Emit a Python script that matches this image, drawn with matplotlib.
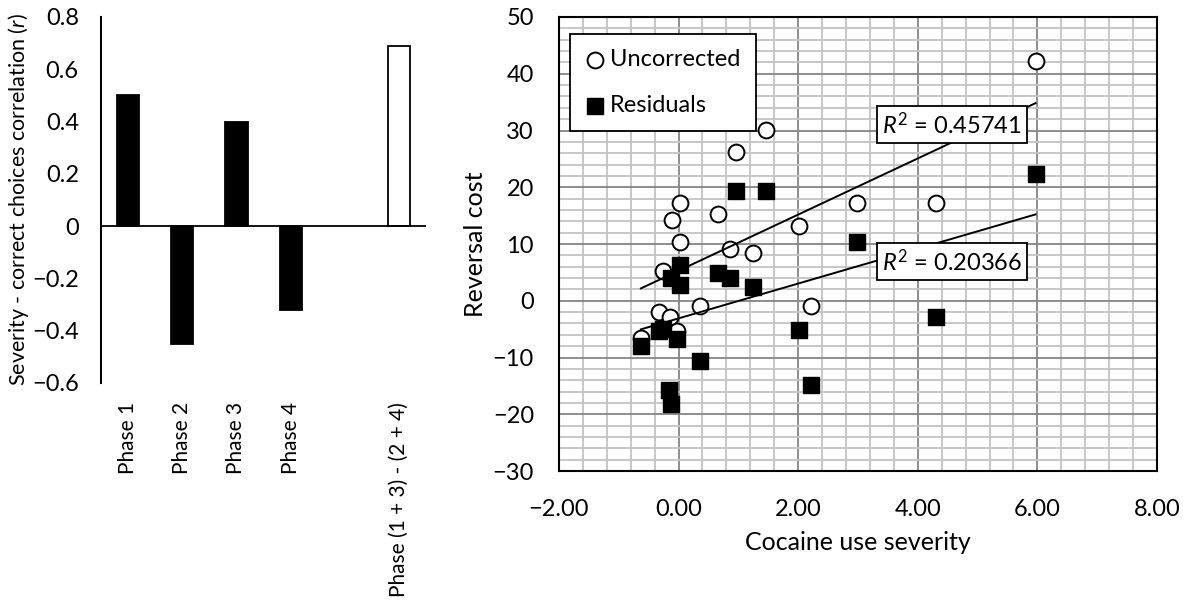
import numpy as np
import matplotlib
matplotlib.use("Agg")
import matplotlib.pyplot as plt
from matplotlib.ticker import MultipleLocator, FuncFormatter

plt.rcParams['font.family'] = ['Lato', 'DejaVu Sans']
plt.rcParams['mathtext.fontset'] = 'custom'
plt.rcParams['mathtext.it'] = 'Lato:italic'
plt.rcParams['mathtext.rm'] = 'Lato'

# --- bar panel: severity vs correct choices correlation per phase ---
phases = ['Phase 1', 'Phase 2', 'Phase 3', 'Phase 4', '', 'Phase (1 + 3) - (2 + 4)']
r_values = [0.50, -0.45, 0.40, -0.32, np.nan, 0.69]
bar_colors = ['black', 'black', 'black', 'black', 'white', 'white']

# --- scatter panel: reversal cost vs cocaine use severity ---
unc_x = [-0.63, -0.33, -0.26, -0.15, -0.11, -0.02, 0.03, 0.03, 0.36, 0.66,
         0.86, 0.96, 1.24, 1.46, 2.02, 2.22, 2.98, 4.30, 5.97]
unc_y = [-6.6, -1.9, 5.2, -2.9, 14.2, -5.4, 17.2, 10.3, -0.9, 15.3,
         9.2, 26.2, 8.4, 30.1, 13.1, -0.9, 17.2, 17.2, 42.3]
res_x = [-0.63, -0.33, -0.26, -0.16, -0.12, -0.13, -0.02, 0.03, 0.03, 0.36,
         0.66, 0.86, 0.96, 1.24, 1.46, 2.02, 2.22, 2.98, 4.30, 5.97]
res_y = [-7.9, -5.4, -5.0, -15.7, -18.2, 4.0, -6.8, 6.3, 2.8, -10.6,
         4.9, 4.0, 19.4, 2.5, 19.4, -5.1, -14.8, 10.4, -2.8, 22.3]
r2_unc = 0.45741
r2_res = 0.20366


def minus(s):
    return s.replace('-', '\u2212')


fig = plt.figure(figsize=(11.86, 6.07), dpi=100)

# bar chart
ax1 = fig.add_axes([0.0852, 0.3694, 0.2740, 0.6026])
pos = np.arange(len(phases))
ax1.bar(pos, r_values, width=0.41, color=bar_colors, edgecolor='black', linewidth=1.3, zorder=2)
ax1.axhline(0, color='black', lw=1.3, zorder=3)
ax1.set_xlim(-0.5, 5.5)
ax1.set_ylim(-0.6, 0.8)
ax1.yaxis.set_major_locator(MultipleLocator(0.2))
ax1.yaxis.set_major_formatter(FuncFormatter(
    lambda v, p: '0' if abs(v) < 1e-9 else minus('%.1f' % v)))
ax1.set_xticks(pos)
ax1.set_xticklabels(phases, rotation=90, va='top', fontsize=15)
ax1.tick_params(axis='both', length=0)
ax1.tick_params(axis='y', labelsize=17, pad=16)
ax1.tick_params(axis='x', pad=14)
for s in ['top', 'right', 'bottom']:
    ax1.spines[s].set_visible(False)
ax1.spines['left'].set_linewidth(1.5)
ax1.set_ylabel('Severity - correct choices correlation ($r$)', fontsize=15.5, labelpad=1)

# scatter chart
ax2 = fig.add_axes([0.4713, 0.2240, 0.5042, 0.7480])
ax2.set_xlim(-2, 8)
ax2.set_ylim(-30, 50)
ax2.xaxis.set_major_locator(MultipleLocator(2))
ax2.xaxis.set_minor_locator(MultipleLocator(0.4))
ax2.yaxis.set_major_locator(MultipleLocator(10))
ax2.yaxis.set_minor_locator(MultipleLocator(2))
ax2.grid(which='minor', color='#c4c4c4', lw=1.3, zorder=0)
ax2.grid(which='major', color='#858585', lw=1.3, zorder=0)
ax2.set_axisbelow(True)
ax2.xaxis.set_major_formatter(FuncFormatter(lambda v, p: minus('%.2f' % v)))
ax2.yaxis.set_major_formatter(FuncFormatter(lambda v, p: minus('%d' % v)))
ax2.tick_params(which='both', length=0, labelsize=17)
ax2.tick_params(axis='y', pad=18)
ax2.tick_params(axis='x', pad=20)
for s in ax2.spines.values():
    s.set_linewidth(1.5)

ax2.scatter(unc_x, unc_y, s=130, marker='o', facecolor='white', edgecolor='black',
            linewidth=1.4, zorder=3, label='Uncorrected')
ax2.scatter(res_x, res_y, s=140, marker='s', facecolor='black', edgecolor='black',
            linewidth=1.0, zorder=4, label='Residuals')

# linear trendlines over each series' x range
for xs, ys in [(unc_x, unc_y), (res_x, res_y)]:
    k, b = np.polyfit(xs, ys, 1)
    xx = np.array([min(xs), max(xs)])
    ax2.plot(xx, k * xx + b, color='black', lw=1.4, zorder=5)

box = dict(boxstyle='square,pad=0.22', fc='white', ec='black', lw=1.3)
ax2.text(4.57, 31.1, r'$R^{2}$ = %.5f' % r2_unc, fontsize=17, ha='center', va='center',
         bbox=box, zorder=6)
ax2.text(4.57, 6.9, r'$R^{2}$ = %.5f' % r2_res, fontsize=17, ha='center', va='center',
         bbox=box, zorder=6)

leg = ax2.legend(loc='upper left', bbox_to_anchor=(0.018, 0.9626), borderaxespad=0,
                 fontsize=17, frameon=True, fancybox=False, edgecolor='black',
                 framealpha=1, labelspacing=1.05, handletextpad=0.25, handlelength=0.8,
                 borderpad=0.65)
leg.get_frame().set_linewidth(1.3)
leg.set_zorder(2.5)

ax2.set_xlabel('Cocaine use severity', fontsize=18, labelpad=8)
ax2.set_ylabel('Reversal cost', fontsize=18, labelpad=4)

fig.savefig('out.png', dpi=100)
